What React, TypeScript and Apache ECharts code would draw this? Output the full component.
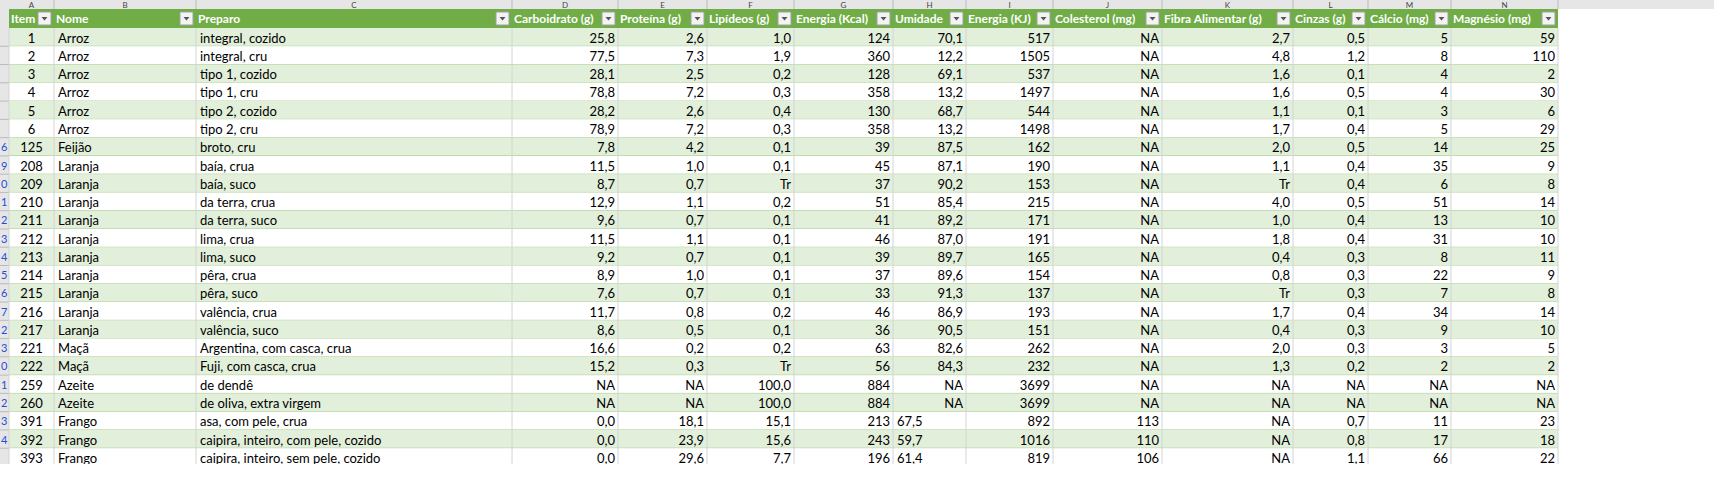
import React from "react";
import * as echarts from "echarts";

const headers = ["Item", "Nome", "Preparo", "Carboidrato (g)", "Proteína (g)", "Lipídeos (g)", "Energia (Kcal)", "Umidade", "Energia (KJ)", "Colesterol (mg)", "Fibra Alimentar (g)", "Cinzas (g)", "Cálcio (mg)", "Magnésio (mg)"];
const colLetters = ["A", "B", "C", "D", "E", "F", "G", "H", "I", "J", "K", "L", "M", "N"];
const colEdges = [9, 54, 196, 512, 618, 707, 794, 893, 966, 1053, 1162, 1293, 1368, 1451, 1558];
const rowMarks = ["", "", "", "", "", "", "6", "9", "0", "1", "2", "3", "4", "5", "6", "7", "2", "3", "0", "1", "2", "3", "4"];

const items = ["1", "2", "3", "4", "5", "6", "125", "208", "209", "210", "211", "212", "213", "214", "215", "216", "217", "221", "222", "259", "260", "391", "392", "393"];
const nomes = ["Arroz", "Arroz", "Arroz", "Arroz", "Arroz", "Arroz", "Feijão", "Laranja", "Laranja", "Laranja", "Laranja", "Laranja", "Laranja", "Laranja", "Laranja", "Laranja", "Laranja", "Maçã", "Maçã", "Azeite", "Azeite", "Frango", "Frango", "Frango"];
const preparos = ["integral, cozido", "integral, cru", "tipo 1, cozido", "tipo 1, cru", "tipo 2, cozido", "tipo 2, cru", "broto, cru", "baía, crua", "baía, suco", "da terra, crua", "da terra, suco", "lima, crua", "lima, suco", "pêra, crua", "pêra, suco", "valência, crua", "valência, suco", "Argentina, com casca, crua", "Fuji, com casca, crua", "de dendê", "de oliva, extra virgem", "asa, com pele, crua", "caipira, inteiro, com pele, cozido", "caipira, inteiro, sem pele, cozido"];
const carbo = ["25,8", "77,5", "28,1", "78,8", "28,2", "78,9", "7,8", "11,5", "8,7", "12,9", "9,6", "11,5", "9,2", "8,9", "7,6", "11,7", "8,6", "16,6", "15,2", "NA", "NA", "0,0", "0,0", "0,0"];
const proteina = ["2,6", "7,3", "2,5", "7,2", "2,6", "7,2", "4,2", "1,0", "0,7", "1,1", "0,7", "1,1", "0,7", "1,0", "0,7", "0,8", "0,5", "0,2", "0,3", "NA", "NA", "18,1", "23,9", "29,6"];
const lipideos = ["1,0", "1,9", "0,2", "0,3", "0,4", "0,3", "0,1", "0,1", "Tr", "0,2", "0,1", "0,1", "0,1", "0,1", "0,1", "0,2", "0,1", "0,2", "Tr", "100,0", "100,0", "15,1", "15,6", "7,7"];
const kcal = ["124", "360", "128", "358", "130", "358", "39", "45", "37", "51", "41", "46", "39", "37", "33", "46", "36", "63", "56", "884", "884", "213", "243", "196"];
const umidade = ["70,1", "12,2", "69,1", "13,2", "68,7", "13,2", "87,5", "87,1", "90,2", "85,4", "89,2", "87,0", "89,7", "89,6", "91,3", "86,9", "90,5", "82,6", "84,3", "NA", "NA", "67,5", "59,7", "61,4"];
const kj = ["517", "1505", "537", "1497", "544", "1498", "162", "190", "153", "215", "171", "191", "165", "154", "137", "193", "151", "262", "232", "3699", "3699", "892", "1016", "819"];
const colesterol = ["NA", "NA", "NA", "NA", "NA", "NA", "NA", "NA", "NA", "NA", "NA", "NA", "NA", "NA", "NA", "NA", "NA", "NA", "NA", "NA", "NA", "113", "110", "106"];
const fibra = ["2,7", "4,8", "1,6", "1,6", "1,1", "1,7", "2,0", "1,1", "Tr", "4,0", "1,0", "1,8", "0,4", "0,8", "Tr", "1,7", "0,4", "2,0", "1,3", "NA", "NA", "NA", "NA", "NA"];
const cinzas = ["0,5", "1,2", "0,1", "0,5", "0,1", "0,4", "0,5", "0,4", "0,4", "0,5", "0,4", "0,4", "0,3", "0,3", "0,3", "0,4", "0,3", "0,3", "0,2", "NA", "NA", "0,7", "0,8", "1,1"];
const calcio = ["5", "8", "4", "4", "3", "5", "14", "35", "6", "51", "13", "31", "8", "22", "7", "34", "9", "3", "2", "NA", "NA", "11", "17", "66"];
const magnesio = ["59", "110", "2", "30", "6", "29", "25", "9", "8", "14", "10", "10", "11", "9", "8", "14", "10", "5", "2", "NA", "NA", "23", "18", "22"];
// Umidade stored as text in the Frango rows (left aligned)
const umidadeText = [21, 22, 23];

const columns = [items, nomes, preparos, carbo, proteina, lipideos, kcal, umidade, kj, colesterol, fibra, cinzas, calcio, magnesio];

const FONT = "Lato, 'Noto Sans', sans-serif";
const TOP = 9;
const HEAD_H = 19;
const ROW_H = 18.27;

export default function App() {
  const ref = React.useRef<HTMLDivElement>(null);
  React.useEffect(() => {
    const chart = echarts.init(ref.current, null, { renderer: "svg" });
    const els: any[] = [];
    // column letters strip
    els.push({ type: "rect", shape: { x: 0, y: 0, width: 1714, height: TOP }, style: { fill: "#e6e6e6" } });
    colLetters.forEach((l, i) => {
      els.push({ type: "text", x: (colEdges[i] + colEdges[i + 1]) / 2, y: 4.5, style: { text: l, font: `8px ${FONT}`, fill: "#444", align: "center", verticalAlign: "middle" } });
      els.push({ type: "line", shape: { x1: colEdges[i + 1], y1: 0, x2: colEdges[i + 1], y2: TOP }, style: { stroke: "#bbb", lineWidth: 1 } });
    });
    // row header strip
    els.push({ type: "rect", shape: { x: 0, y: TOP, width: colEdges[0], height: 466 - TOP }, style: { fill: "#e6e6e6" } });
    // header
    els.push({ type: "rect", shape: { x: colEdges[0], y: TOP, width: colEdges[colEdges.length - 1] - colEdges[0], height: HEAD_H }, style: { fill: "#70ad47" } });
    headers.forEach((h, i) => {
      const x0 = colEdges[i], x1 = colEdges[i + 1];
      els.push({ type: "text", x: x0 + 2, y: TOP + HEAD_H / 2, style: { text: h, font: `bold 12px ${FONT}`, fill: "#fff", verticalAlign: "middle" } });
      els.push({ type: "rect", shape: { x: x1 - 16, y: TOP + 3, width: 13, height: 13 }, style: { fill: "#f3f3f3", stroke: "#a0a0a0", lineWidth: 1 } });
      els.push({ type: "polygon", shape: { points: [[x1 - 12.5, TOP + 8], [x1 - 6.5, TOP + 8], [x1 - 9.5, TOP + 11.5]] }, style: { fill: "#555" } });
    });
    // rows
    items.forEach((_, r) => {
      const y = TOP + HEAD_H + r * ROW_H;
      els.push({ type: "rect", shape: { x: colEdges[0], y, width: colEdges[colEdges.length - 1] - colEdges[0], height: ROW_H }, style: { fill: r % 2 === 0 ? "#e2efda" : "#ffffff" } });
      els.push({ type: "line", shape: { x1: colEdges[0], y1: y + ROW_H, x2: colEdges[colEdges.length - 1], y2: y + ROW_H }, style: { stroke: "#a9d08e", lineWidth: 1 } });
      els.push({ type: "line", shape: { x1: 0, y1: y + ROW_H, x2: colEdges[0], y2: y + ROW_H }, style: { stroke: "#bbb", lineWidth: 1 } });
      if (rowMarks[r]) els.push({ type: "text", x: 1, y: y + ROW_H / 2, style: { text: rowMarks[r], font: `11px ${FONT}`, fill: "#1f4fd8", verticalAlign: "middle" } });
      columns.forEach((col, c) => {
        const x0 = colEdges[c], x1 = colEdges[c + 1];
        const v = col[r];
        let align: "left" | "right" | "center" = "right";
        let x = x1 - 3;
        if (c === 0) { align = "center"; x = (x0 + x1) / 2; }
        else if (c === 1 || c === 2 || (c === 7 && umidadeText.includes(r))) { align = "left"; x = x0 + 4; }
        els.push({ type: "text", x, y: y + ROW_H / 2 + 0.5, style: { text: v, font: `13px ${FONT}`, fill: "#000", align, verticalAlign: "middle" } });
      });
    });
    // vertical grid lines
    colEdges.forEach((x) => {
      els.push({ type: "line", shape: { x1: x, y1: TOP + HEAD_H, x2: x, y2: 466 }, style: { stroke: "#d4d4d4", lineWidth: 1 } });
    });
    chart.setOption({ animation: false, graphic: { elements: els } });
    return () => chart.dispose();
  }, []);
  return (
    <div style={{ position: "fixed", left: 0, top: 0, width: 1714, height: 498, background: "#fff" }}>
      <div ref={ref} style={{ width: 1714, height: 464, overflow: "hidden" }} />
    </div>
  );
}
